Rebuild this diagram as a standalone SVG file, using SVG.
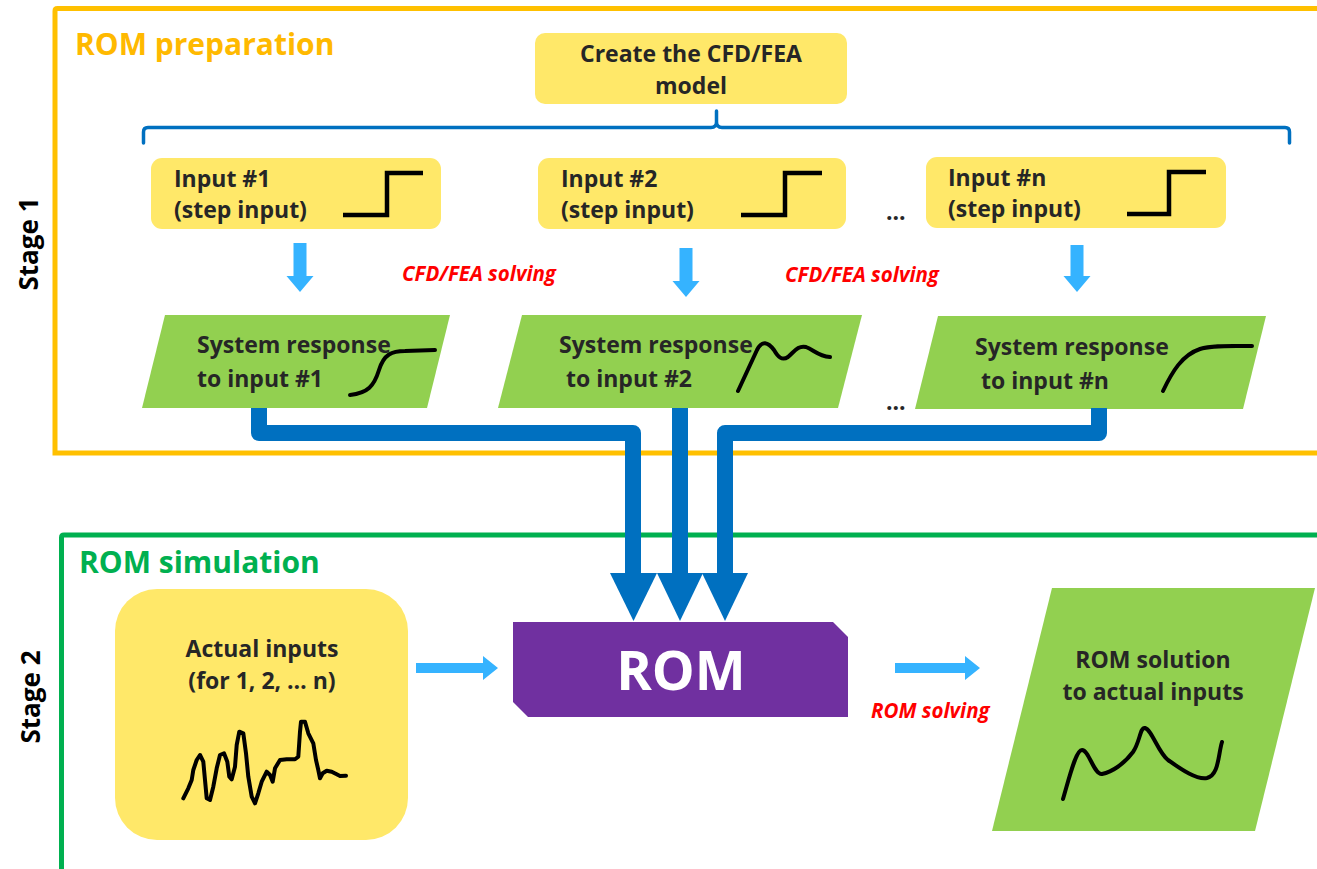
<svg xmlns="http://www.w3.org/2000/svg" width="1317" height="869" viewBox="0 0 1317 869">
  <style>
    .lbl { font-family: "Open Sans", "Liberation Sans", sans-serif; font-weight: 700; fill: #262626; font-size: 23px; }
    .mid { text-anchor: middle; }
    .red { font-family: "Open Sans", "Liberation Sans", sans-serif; font-weight: 700; font-style: italic; fill: #FF0000; font-size: 20.5px; }
    .yel { fill: #FFE869; }
    .grn { fill: #92D050; }
    .sketch { fill: none; stroke: #000; stroke-width: 4; stroke-linecap: round; stroke-linejoin: round; }
    .step { fill: none; stroke: #000; stroke-width: 4.5; }
    .thin { fill: #35B3FF; }
    .bus { fill: none; stroke: #0070C0; stroke-width: 16; stroke-linejoin: round; }
    .head { fill: #0070C0; }
    .stage { font-family: "Open Sans", "Liberation Sans", sans-serif; font-weight: 700; font-size: 26px; fill: #000; text-anchor: middle; }
  </style>

  <rect width="1317" height="869" fill="#FFFFFF"/>

  <!-- Stage frames -->
  <g id="stage1">
    <path d="M1330,8.5 H57.5 Q55,8.5 55,11 V453 H1330" fill="none" stroke="#FFC000" stroke-width="5"/>
    <text x="75" y="55" font-family="Open Sans, Liberation Sans, sans-serif" font-weight="700" font-size="30" fill="#FFB900">ROM preparation</text>
    <text transform="translate(38,244) rotate(-90)" class="stage">Stage 1</text>
  </g>
  <g id="stage2">
    <path d="M1330,535 H64 Q61.5,535 61.5,537.5 V880" fill="none" stroke="#00B050" stroke-width="5"/>
    <text x="79" y="573" font-family="Open Sans, Liberation Sans, sans-serif" font-weight="700" font-size="30" fill="#00B050">ROM simulation</text>
    <text transform="translate(40,697) rotate(-90)" class="stage">Stage 2</text>
  </g>

  <!-- Model creation -->
  <g id="create-model">
    <rect x="535" y="33" width="312" height="71" rx="10" class="yel"/>
    <text x="691" y="62" class="lbl mid">Create the CFD/FEA</text>
    <text x="691" y="94" class="lbl mid">model</text>
  </g>

  <!-- Brace spanning the inputs -->
  <g id="brace">
    <path d="M143.5,143 V132 Q143.5,127.5 148,127.5 H711 Q716.5,127.5 716.5,122 V111 M716.5,122 Q716.5,127.5 722,127.5 H1285 Q1289.5,127.5 1289.5,132 V143" fill="none" stroke="#0070C0" stroke-width="3.5" stroke-linecap="round"/>
  </g>

  <!-- Step inputs -->
  <g id="input-1">
    <rect x="151" y="158" width="290" height="71" rx="11" class="yel"/>
    <text x="174" y="187" class="lbl">Input #1</text>
    <text x="174" y="218" class="lbl">(step input)</text>
    <path d="M343,215 H387 V173 H423" class="step"/>
  </g>
  <g id="input-2">
    <rect x="538" y="158" width="308" height="71" rx="11" class="yel"/>
    <text x="561" y="187" class="lbl">Input #2</text>
    <text x="561" y="218" class="lbl">(step input)</text>
    <path d="M741,215 H785 V173 H822" class="step"/>
  </g>
  <g id="input-n">
    <rect x="926" y="157" width="300" height="71" rx="11" class="yel"/>
    <text x="948" y="186" class="lbl">Input #n</text>
    <text x="948" y="217" class="lbl">(step input)</text>
    <path d="M1127,214 H1169 V172 H1206" class="step"/>
  </g>
  <text x="886" y="220" class="lbl" font-size="22">...</text>

  <!-- System responses -->
  <g id="response-1">
    <polygon points="165,315 450,315 427,408 142,408" class="grn"/>
    <text x="197" y="353" class="lbl">System response</text>
    <text x="197" y="387" class="lbl">to input #1</text>
    <path d="M350,395 C368,393 374,386 379,370 C384,354 392,351 405,351 L435,350" class="sketch"/>
  </g>
  <g id="response-2">
    <polygon points="522,315 862,315 838,408 498,408" class="grn"/>
    <text x="559" y="353" class="lbl">System response</text>
    <text x="566" y="387" class="lbl">to input #2</text>
    <path d="M738,391 L757,350 C762,340 768,342 774,350 C778,357 782,361 788,357 C794,352 798,345 806,347 C814,350 818,356 830,357" class="sketch"/>
  </g>
  <g id="response-n">
    <polygon points="938,316 1266,316 1243,409 915,409" class="grn"/>
    <text x="975" y="355" class="lbl">System response</text>
    <text x="981" y="389" class="lbl">to input #n</text>
    <path d="M1163,391 C1172,372 1182,355 1200,349 C1212,345 1230,346 1252,346" class="sketch"/>
  </g>
  <text x="886" y="410" class="lbl" font-size="22">...</text>

  <!-- Solver steps -->
  <g id="solve-labels">
    <text x="402" y="281" class="red">CFD/FEA solving</text>
    <text x="785" y="282" class="red">CFD/FEA solving</text>
    <text x="871" y="718" class="red">ROM solving</text>
  </g>

  <!-- ROM block -->
  <g id="rom">
    <polygon points="513,622 833,622 848,637 848,717 528,717 513,702" fill="#7030A0"/>
    <text x="681" y="690" text-anchor="middle" font-family="Open Sans, Liberation Sans, sans-serif" font-weight="700" font-size="54" fill="#FFFFFF">ROM</text>
  </g>

  <!-- Actual inputs -->
  <g id="actual-inputs">
    <rect x="115" y="589" width="293" height="251" rx="42" class="yel"/>
    <text x="262" y="657" class="lbl mid">Actual inputs</text>
    <text x="262" y="689" class="lbl mid">(for 1, 2, … n)</text>
    <polyline class="sketch" points="183.3,798.3 188.3,788.3 191.7,780 193.3,770 196.7,760 200,755 203.3,761.7 205,780 206.7,798.3 210,800 213.3,786.7 216.7,768.3 220,755 224,753.3 227.3,761.7 229.3,776.7 231.7,779.3 235,766.7 236.7,745 239.3,731.7 243.3,733.3 246,753.3 248.3,776.7 251.7,796.7 255,803.3 258.3,793.3 261.7,781.7 266.7,771.7 270,775 272.7,781.7 275,768.3 280,760 286.7,759.3 295,759.3 298.3,756.7 300,731.7 301,721.7 305,721.7 308.3,733.3 313.3,743.3 316,760 318.3,770 320,778.3 322.7,773.3 326.7,770.7 331.7,771.7 336.7,774.3 340,776 346,775.7"/>
  </g>

  <!-- ROM solution -->
  <g id="rom-solution">
    <polygon points="1052,588 1315,588 1255,831 992,831" class="grn"/>
    <text x="1153" y="668" class="lbl mid">ROM solution</text>
    <text x="1153" y="700" class="lbl mid">to actual inputs</text>
    <path d="M1063,799 C1070,775 1076,750 1082,750 C1089,750 1094,775 1102,774 C1112,772 1124,764 1133,752 C1140,742 1140,727 1145,728 C1152,730 1158,752 1168,760 C1182,770 1197,780 1207,778 C1219,775 1218,755 1222,742" class="sketch"/>
  </g>

  <!-- Connectors -->
  <g id="connectors">
    <!-- solver arrows -->
    <polygon class="thin" points="293.5,243 306.5,243 306.5,276 313.5,276 300,292 286.5,276 293.5,276"/>
    <polygon class="thin" points="679.5,248 692.5,248 692.5,281 699.5,281 686,297 672.5,281 679.5,281"/>
    <polygon class="thin" points="1070.5,245 1083.5,245 1083.5,276 1090.5,276 1077,292 1063.5,276 1070.5,276"/>
    <!-- actual inputs to ROM -->
    <polygon class="thin" points="416,663 483,663 483,656 498,668 483,680 483,673 416,673"/>
    <!-- ROM to solution -->
    <polygon class="thin" points="895,663 965,663 965,656 980,668 965,680 965,673 895,673"/>
    <!-- response buses into ROM -->
    <path class="bus" d="M259,408 V433 H633 V576"/>
    <path class="bus" d="M680,408 V576"/>
    <path class="bus" d="M1099,408 V433 H725 V576"/>
    <polygon class="head" points="610,573 657,573 633.5,621"/>
    <polygon class="head" points="657,573 703,573 680,621"/>
    <polygon class="head" points="702,573 748,573 725,621"/>
  </g>
</svg>
